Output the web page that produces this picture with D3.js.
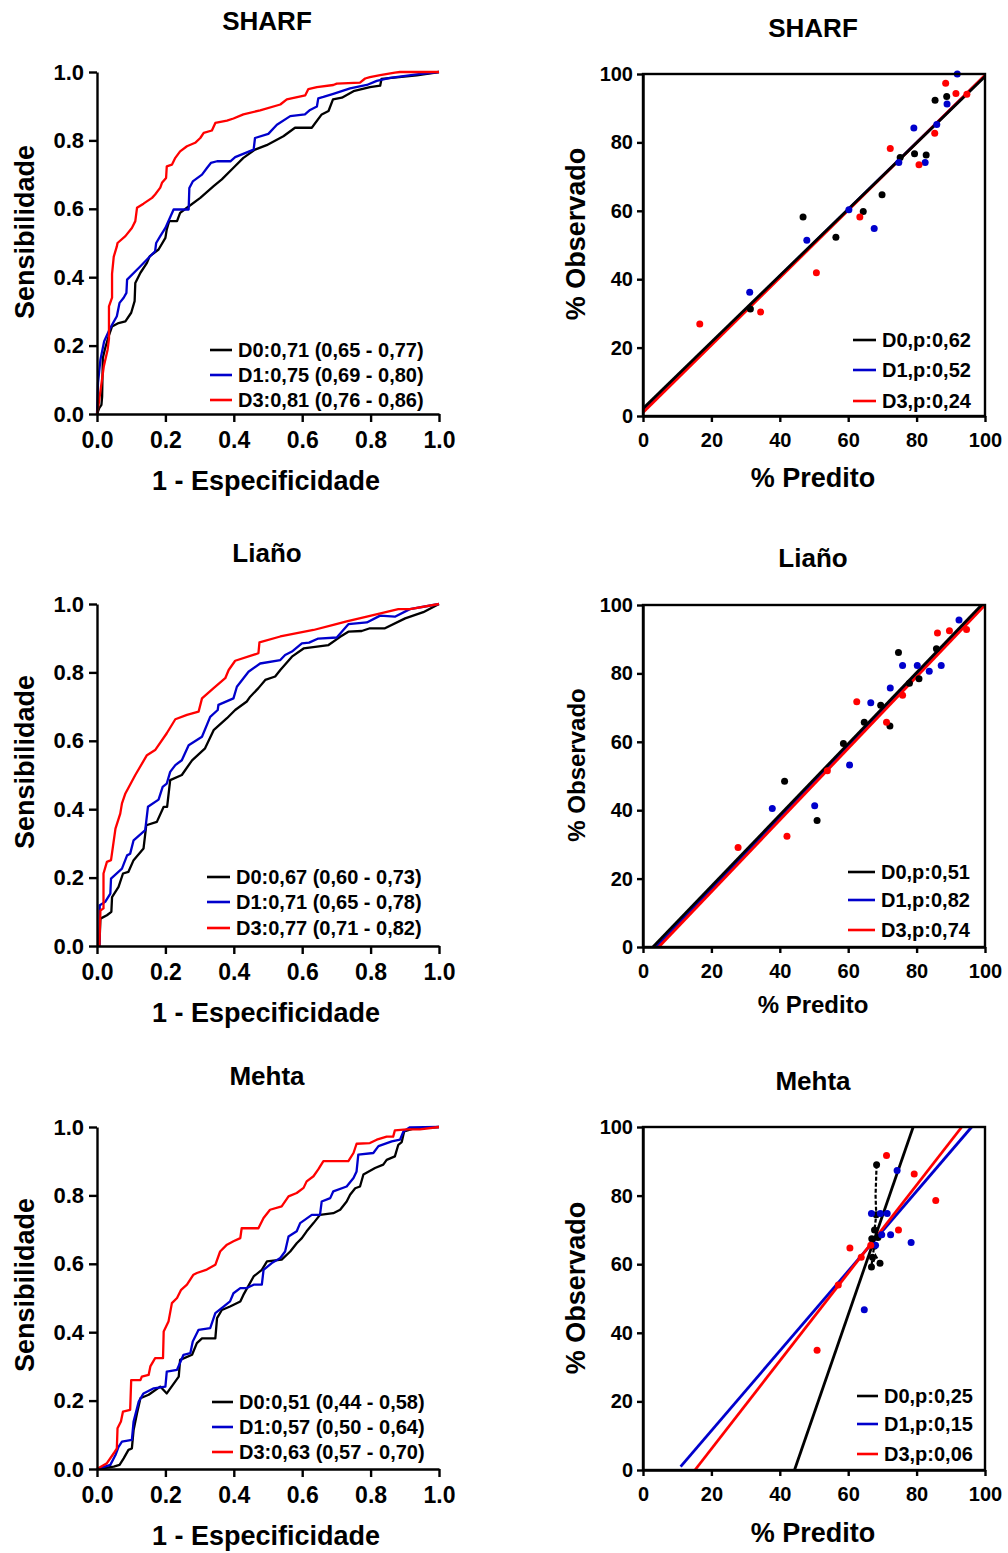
<!DOCTYPE html>
<html><head><meta charset="utf-8">
<script src="https://cdn.jsdelivr.net/npm/d3@7"></script>
<style>body{margin:0;background:#fff}svg text{font-family:"Liberation Sans",Arial,sans-serif;font-weight:bold;fill:#000}</style>
</head><body>
<svg id="c" width="1008" height="1553"></svg>
<script>
// ---------- DATA ----------
const titles = ["SHARF", "Liaño", "Mehta"];
const seriesNames = ["D0", "D1", "D3"];
const rocTickLabels = ["0.0", "0.2", "0.4", "0.6", "0.8", "1.0"];
const rocTickValues = [0, 0.2, 0.4, 0.6, 0.8, 1.0];
const calTickValues = [0, 20, 40, 60, 80, 100];
const rocXTitle = "1 - Especificidade";
const rocYTitle = "Sensibilidade";
const calXTitle = "% Predito";
const calYTitle = "% Observado";

const rocLegend = [
  ["D0:0,71 (0,65 - 0,77)", "D1:0,75 (0,69 - 0,80)", "D3:0,81 (0,76 - 0,86)"],
  ["D0:0,67 (0,60 - 0,73)", "D1:0,71 (0,65 - 0,78)", "D3:0,77 (0,71 - 0,82)"],
  ["D0:0,51 (0,44 - 0,58)", "D1:0,57 (0,50 - 0,64)", "D3:0,63 (0,57 - 0,70)"]
];
const calLegend = [
  ["D0,p:0,62", "D1,p:0,52", "D3,p:0,24"],
  ["D0,p:0,51", "D1,p:0,82", "D3,p:0,74"],
  ["D0,p:0,25", "D1,p:0,15", "D3,p:0,06"]
];

// ROC curves [1-specificity, sensitivity]
const sharfRocD0 = [[0,0],[0.007,0.018],[0.013,0.027],[0.015,0.051],[0.017,0.164],[0.024,0.193],[0.034,0.227],[0.044,0.256],[0.063,0.266],[0.083,0.271],[0.1,0.296],[0.11,0.33],[0.112,0.383],[0.127,0.413],[0.146,0.442],[0.154,0.461],[0.18,0.481],[0.2,0.515],[0.204,0.54],[0.211,0.564],[0.234,0.564],[0.243,0.588],[0.263,0.603],[0.302,0.632],[0.341,0.666],[0.365,0.686],[0.399,0.72],[0.428,0.749],[0.462,0.773],[0.496,0.786],[0.545,0.812],[0.579,0.837],[0.628,0.837],[0.657,0.876],[0.677,0.886],[0.69,0.92],[0.716,0.925],[0.75,0.944],[0.798,0.956],[0.828,0.96],[0.832,0.98],[0.935,0.99],[1,1]];
const sharfRocD1 = [[0,0],[0.003,0.091],[0.01,0.159],[0.021,0.213],[0.039,0.252],[0.058,0.286],[0.066,0.325],[0.078,0.34],[0.086,0.354],[0.088,0.393],[0.127,0.432],[0.151,0.457],[0.17,0.476],[0.173,0.5],[0.185,0.52],[0.2,0.544],[0.224,0.598],[0.268,0.598],[0.27,0.661],[0.28,0.68],[0.307,0.7],[0.322,0.72],[0.333,0.734],[0.351,0.739],[0.39,0.739],[0.404,0.751],[0.458,0.773],[0.462,0.807],[0.501,0.819],[0.526,0.846],[0.565,0.871],[0.608,0.876],[0.623,0.889],[0.643,0.899],[0.647,0.923],[0.662,0.927],[0.691,0.936],[0.74,0.952],[0.789,0.962],[0.818,0.974],[0.857,0.983],[0.935,0.993],[1,1]];
const sharfRocD3 = [[0,0],[0.005,0.03],[0.02,0.14],[0.031,0.188],[0.035,0.22],[0.035,0.315],[0.044,0.34],[0.044,0.41],[0.049,0.46],[0.058,0.49],[0.06,0.5],[0.083,0.52],[0.102,0.544],[0.112,0.564],[0.117,0.603],[0.136,0.615],[0.161,0.632],[0.17,0.642],[0.185,0.662],[0.19,0.676],[0.202,0.69],[0.204,0.724],[0.219,0.729],[0.229,0.749],[0.243,0.768],[0.263,0.783],[0.287,0.793],[0.302,0.807],[0.312,0.822],[0.336,0.829],[0.346,0.851],[0.38,0.858],[0.399,0.864],[0.428,0.876],[0.477,0.888],[0.536,0.905],[0.555,0.92],[0.609,0.932],[0.618,0.95],[0.643,0.956],[0.691,0.962],[0.701,0.966],[0.769,0.969],[0.784,0.981],[0.798,0.985],[0.828,0.991],[0.871,0.998],[0.886,1],[1,1]];

const lianoRocD0 = [[0.007,0],[0.01,0.08],[0.029,0.09],[0.042,0.1],[0.044,0.143],[0.063,0.173],[0.076,0.212],[0.092,0.217],[0.107,0.251],[0.136,0.285],[0.144,0.353],[0.175,0.363],[0.195,0.407],[0.205,0.407],[0.214,0.485],[0.248,0.5],[0.278,0.543],[0.316,0.578],[0.341,0.631],[0.38,0.666],[0.404,0.69],[0.438,0.715],[0.448,0.729],[0.472,0.754],[0.492,0.778],[0.521,0.788],[0.536,0.807],[0.57,0.846],[0.604,0.87],[0.677,0.88],[0.711,0.904],[0.735,0.919],[0.774,0.921],[0.798,0.929],[0.842,0.929],[0.901,0.958],[0.954,0.976],[1,1]];
const lianoRocD1 = [[0.007,0],[0.008,0.119],[0.024,0.129],[0.039,0.153],[0.041,0.197],[0.073,0.226],[0.088,0.265],[0.097,0.27],[0.107,0.309],[0.141,0.339],[0.149,0.407],[0.18,0.428],[0.192,0.465],[0.204,0.475],[0.214,0.509],[0.229,0.529],[0.248,0.543],[0.268,0.587],[0.307,0.612],[0.331,0.67],[0.353,0.69],[0.355,0.705],[0.399,0.724],[0.409,0.758],[0.443,0.802],[0.477,0.826],[0.536,0.836],[0.55,0.851],[0.57,0.861],[0.599,0.885],[0.62,0.887],[0.647,0.899],[0.701,0.902],[0.735,0.941],[0.789,0.946],[0.828,0.966],[0.871,0.963],[0.915,0.985],[1,1]];
const lianoRocD3 = [[0.007,0],[0.01,0.104],[0.019,0.11],[0.019,0.212],[0.029,0.246],[0.041,0.251],[0.054,0.343],[0.068,0.387],[0.073,0.417],[0.083,0.446],[0.112,0.5],[0.146,0.558],[0.17,0.573],[0.204,0.622],[0.229,0.663],[0.263,0.676],[0.297,0.685],[0.307,0.724],[0.341,0.754],[0.375,0.783],[0.385,0.807],[0.404,0.834],[0.472,0.856],[0.475,0.888],[0.536,0.905],[0.633,0.924],[0.691,0.939],[0.73,0.949],[0.789,0.963],[0.838,0.975],[0.881,0.985],[0.915,0.985],[1,1]];

const mehtaRocD0 = [[0,0],[0.049,0.007],[0.066,0.012],[0.078,0.031],[0.092,0.056],[0.102,0.06],[0.107,0.114],[0.117,0.163],[0.127,0.207],[0.151,0.217],[0.185,0.241],[0.204,0.221],[0.239,0.27],[0.243,0.319],[0.278,0.334],[0.292,0.368],[0.307,0.382],[0.346,0.382],[0.351,0.441],[0.365,0.465],[0.389,0.475],[0.419,0.49],[0.428,0.509],[0.458,0.563],[0.482,0.582],[0.497,0.607],[0.54,0.612],[0.565,0.636],[0.584,0.66],[0.599,0.675],[0.613,0.695],[0.633,0.719],[0.652,0.743],[0.691,0.748],[0.711,0.758],[0.73,0.782],[0.74,0.802],[0.755,0.821],[0.769,0.826],[0.779,0.861],[0.813,0.88],[0.837,0.89],[0.847,0.904],[0.871,0.914],[0.881,0.948],[0.891,0.956],[0.898,0.987],[0.925,0.995],[1,1]];
const mehtaRocD1 = [[0,0],[0.039,0.012],[0.054,0.041],[0.063,0.065],[0.073,0.08],[0.102,0.085],[0.107,0.139],[0.122,0.197],[0.136,0.221],[0.166,0.236],[0.2,0.241],[0.204,0.285],[0.234,0.29],[0.253,0.334],[0.273,0.339],[0.28,0.373],[0.297,0.407],[0.331,0.412],[0.346,0.456],[0.37,0.475],[0.389,0.49],[0.399,0.514],[0.419,0.529],[0.438,0.529],[0.458,0.539],[0.482,0.539],[0.487,0.582],[0.511,0.602],[0.536,0.617],[0.55,0.636],[0.56,0.68],[0.584,0.695],[0.594,0.719],[0.628,0.743],[0.652,0.743],[0.657,0.782],[0.682,0.792],[0.691,0.812],[0.73,0.826],[0.75,0.851],[0.759,0.87],[0.764,0.919],[0.808,0.924],[0.823,0.944],[0.862,0.958],[0.886,0.963],[0.896,0.987],[0.915,0.999],[1,1]];
const mehtaRocD3 = [[0,0],[0.029,0.017],[0.049,0.046],[0.058,0.06],[0.06,0.119],[0.07,0.139],[0.076,0.168],[0.097,0.173],[0.1,0.26],[0.127,0.26],[0.131,0.27],[0.151,0.275],[0.156,0.3],[0.17,0.324],[0.193,0.324],[0.195,0.402],[0.209,0.431],[0.219,0.485],[0.234,0.5],[0.246,0.524],[0.263,0.539],[0.282,0.568],[0.292,0.573],[0.321,0.583],[0.346,0.597],[0.36,0.636],[0.38,0.656],[0.399,0.666],[0.419,0.675],[0.423,0.704],[0.472,0.704],[0.487,0.734],[0.506,0.758],[0.54,0.768],[0.56,0.797],[0.584,0.807],[0.604,0.822],[0.613,0.841],[0.633,0.856],[0.647,0.876],[0.662,0.9],[0.735,0.9],[0.75,0.924],[0.759,0.951],[0.798,0.953],[0.818,0.963],[0.847,0.972],[0.866,0.972],[0.871,0.99],[0.906,0.993],[0.944,0.993],[1,1]];

// Calibration points [% predicted, % observed]
const sharfCalD0 = [[46.8,58.2],[31.4,31.3],[56.4,52.3],[64.4,59.8],[69.9,64.7],[75.2,75.6],[79.4,76.7],[82.8,76.3],[85.4,92.3],[88.8,93.4]];
const sharfCalD1 = [[31.2,36.2],[47.9,51.4],[60.2,60.3],[67.6,54.8],[74.8,74.1],[79.2,84.2],[82.5,74.1],[85.9,85.2],[88.9,91.2],[91.9,100]];
const sharfCalD3 = [[16.6,26.9],[34.4,30.4],[50.7,41.9],[63.4,58.2],[72.3,78.2],[80.7,73.5],[85.3,82.7],[88.5,97.3],[91.5,94.3],[94.7,94.1]];
const lianoCalD0 = [[41.4,48.5],[50.9,37.0],[58.6,59.5],[64.7,65.7],[69.5,70.7],[72.2,64.6],[74.7,86.1],[77.9,77.1],[80.7,78.4],[85.8,87.2]];
const lianoCalD1 = [[37.8,40.5],[50.2,41.3],[60.4,53.2],[66.6,71.4],[72.3,75.7],[75.9,82.3],[80.2,82.3],[83.7,80.6],[87.2,82.3],[92.4,95.6]];
const lianoCalD3 = [[27.8,29.1],[42.1,32.4],[53.9,51.5],[62.5,71.7],[71.2,65.7],[75.9,73.6],[86.1,91.8],[89.6,92.5],[94.6,92.8]];
const mehtaCalD0 = [[68.3,89.0],[68.2,74.4],[67.7,70.0],[68.7,67.8],[66.9,67.4],[67.6,65.2],[67.1,62.0],[66.8,59.2],[69.3,60.3]];
const mehtaCalD1 = [[74.3,87.3],[66.8,74.8],[69.4,74.8],[71.4,74.8],[69.8,68.6],[72.4,68.6],[78.4,66.3],[64.7,46.7],[68.0,65.5]];
const mehtaCalD3 = [[71.2,91.7],[79.3,86.3],[85.6,78.6],[74.7,70.0],[60.5,64.7],[63.8,62.0],[57.1,53.9],[50.9,34.9],[66.6,65.5]];

// Fitted calibration lines [[x0,y0],[x1,y1]]
const sharfFitD0 = [[0,2.2],[100,99.3]];
const sharfFitD1 = [[0,1.8],[100,99.5]];
const sharfFitD3 = [[0,1.0],[100,99.6]];
const lianoFitD0 = [[2.9,0],[99.0,100]];
const lianoFitD1 = [[3.9,0],[99.5,100]];
const lianoFitD3 = [[4.6,0],[100,100]];
const mehtaFitD0 = [[44.3,0],[79.0,100]];
const mehtaFitD1 = [[11.0,1.0],[96.1,100]];
const mehtaFitD3 = [[15.2,0],[93.2,100]];
// Mehta D0 path through its points (dashed connector in the original)
const mehtaD0Path = [[68.3,89.0],[68.0,80.0],[68.2,74.4],[67.7,70.0],[68.7,67.8],[66.9,67.4],[67.6,65.2],[67.1,62.0],[66.8,59.2],[68.0,62.5],[69.3,60.3]];

// ---------- DRAW ----------
const colors = ["#000000", "#0000cc", "#ff0000"];
const svg = d3.select("#c");
const FONT = '"Liberation Sans", Arial, sans-serif';

const rocPanels = [
  {data:[sharfRocD0,sharfRocD1,sharfRocD3], top:72, bottom:414, titleY:30, xTitleY:490, yTitleCY:232, legX:210, legLen:22, legY:[350,375,400]},
  {data:[lianoRocD0,lianoRocD1,lianoRocD3], top:604, bottom:946, titleY:562, xTitleY:1022, yTitleCY:762, legX:207, legLen:23, legY:[877,902,928]},
  {data:[mehtaRocD0,mehtaRocD1,mehtaRocD3], top:1127, bottom:1469, titleY:1085, xTitleY:1545, yTitleCY:1285, legX:212, legLen:21, legY:[1402,1427,1452]}
];
const calPanels = [
  {pts:[sharfCalD0,sharfCalD1,sharfCalD3], fits:[sharfFitD0,sharfFitD1,sharfFitD3], top:74, bottom:416, titleY:37, xTitleY:487, yTitleCY:234, tsize:27, legX:853, legLen:23, legY:[340,370,401]},
  {pts:[lianoCalD0,lianoCalD1,lianoCalD3], fits:[lianoFitD0,lianoFitD1,lianoFitD3], top:605, bottom:947, titleY:567, xTitleY:1013, yTitleCY:765, tsize:24, legX:848, legLen:27, legY:[872,900,930]},
  {pts:[mehtaCalD0,mehtaCalD1,mehtaCalD3], fits:[mehtaFitD0,mehtaFitD1,mehtaFitD3], top:1127, bottom:1470, titleY:1090, xTitleY:1542, yTitleCY:1288, tsize:27, legX:857, legLen:21, legY:[1396,1424,1454]}
];

function styleAxis(g, fs) {
  g.select(".domain").attr("stroke", "#000").attr("stroke-width", 2.4);
  g.selectAll(".tick line").attr("stroke", "#000").attr("stroke-width", 2.4);
  g.selectAll(".tick text").attr("font-size", fs).attr("font-family", FONT).attr("font-weight", "bold").attr("fill", "#000");
}

rocPanels.forEach((p, i) => {
  const x = d3.scaleLinear().domain([0, 1]).range([97, 439]);
  const y = d3.scaleLinear().domain([0, 1]).range([p.bottom, p.top]);
  const g = svg.append("g");
  const line = d3.line().x(d => x(d[0])).y(d => y(d[1]));
  [0, 1, 2].forEach(s => {
    g.append("path").attr("d", line(p.data[s])).attr("fill", "none")
      .attr("stroke", colors[s]).attr("stroke-width", 2.3).attr("stroke-linejoin", "round");
  });
  const xa = g.append("g").attr("transform", `translate(0,${p.bottom})`)
    .call(d3.axisBottom(x).tickValues(rocTickValues).tickFormat((d, k) => rocTickLabels[k]).tickSize(8).tickSizeOuter(0).tickPadding(10));
  styleAxis(xa, 23);
  const ya = g.append("g").attr("transform", `translate(97,0)`)
    .call(d3.axisLeft(y).tickValues(rocTickValues).tickFormat((d, k) => rocTickLabels[k]).tickSize(8).tickSizeOuter(0).tickPadding(5));
  styleAxis(ya, 22);
  g.append("text").attr("x", 267).attr("y", p.titleY).attr("text-anchor", "middle").attr("font-size", 26).text(titles[i]);
  g.append("text").attr("x", 266).attr("y", p.xTitleY).attr("text-anchor", "middle").attr("font-size", 27).text(rocXTitle);
  g.append("text").attr("transform", `translate(34,${p.yTitleCY}) rotate(-90)`).attr("text-anchor", "middle").attr("font-size", 27).text(rocYTitle);
  [0, 1, 2].forEach(s => {
    g.append("line").attr("x1", p.legX).attr("x2", p.legX + p.legLen).attr("y1", p.legY[s]).attr("y2", p.legY[s])
      .attr("stroke", colors[s]).attr("stroke-width", 2.6);
    g.append("text").attr("x", p.legX + p.legLen + 6).attr("y", p.legY[s]).attr("dy", "0.36em")
      .attr("font-size", 20).text(rocLegend[i][s]);
  });
});

calPanels.forEach((p, i) => {
  const x = d3.scaleLinear().domain([0, 100]).range([643, 985]);
  const y = d3.scaleLinear().domain([0, 100]).range([p.bottom, p.top]);
  const g = svg.append("g");
  const line = d3.line().x(d => x(d[0])).y(d => y(d[1]));
  [1, 2, 0].forEach(s => {
    g.append("path").attr("d", line(p.fits[s])).attr("fill", "none")
      .attr("stroke", colors[s]).attr("stroke-width", 2.8);
  });
  if (i === 2) {
    g.append("path").attr("d", line(mehtaD0Path)).attr("fill", "none")
      .attr("stroke", "#000").attr("stroke-width", 2.2).attr("stroke-dasharray", "4,2");
  }
  [0, 1, 2].forEach(s => {
    g.selectAll(null).data(p.pts[s]).enter().append("circle")
      .attr("cx", d => x(d[0])).attr("cy", d => y(d[1])).attr("r", 3.5).attr("fill", colors[s]);
  });
  g.append("rect").attr("x", 643).attr("y", p.top).attr("width", 342).attr("height", p.bottom - p.top)
    .attr("fill", "none").attr("stroke", "#000").attr("stroke-width", 2.4);
  const xa = g.append("g").attr("transform", `translate(0,${p.bottom})`)
    .call(d3.axisBottom(x).tickValues(calTickValues).tickFormat(d3.format("d")).tickSize(6).tickSizeOuter(0).tickPadding(11));
  styleAxis(xa, 20);
  const ya = g.append("g").attr("transform", `translate(643,0)`)
    .call(d3.axisLeft(y).tickValues(calTickValues).tickFormat(d3.format("d")).tickSize(6).tickSizeOuter(0).tickPadding(4));
  styleAxis(ya, 20);
  g.append("text").attr("x", 813).attr("y", p.titleY).attr("text-anchor", "middle").attr("font-size", 26).text(titles[i]);
  g.append("text").attr("x", 813).attr("y", p.xTitleY).attr("text-anchor", "middle").attr("font-size", p.tsize).text(calXTitle);
  g.append("text").attr("transform", `translate(585,${p.yTitleCY}) rotate(-90)`).attr("text-anchor", "middle").attr("font-size", p.tsize).text(calYTitle);
  [0, 1, 2].forEach(s => {
    g.append("line").attr("x1", p.legX).attr("x2", p.legX + p.legLen).attr("y1", p.legY[s]).attr("y2", p.legY[s])
      .attr("stroke", colors[s]).attr("stroke-width", 2.6);
    g.append("text").attr("x", p.legX + p.legLen + 6).attr("y", p.legY[s]).attr("dy", "0.36em")
      .attr("font-size", 20).text(calLegend[i][s]);
  });
});
</script></body></html>
